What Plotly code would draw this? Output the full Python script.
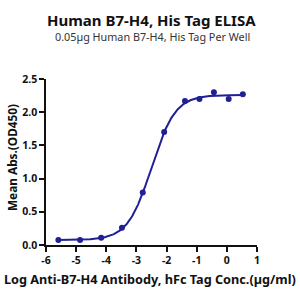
import numpy as np
import plotly.graph_objects as go

# Data
log_conc = [-5.59, -4.87, -4.17, -3.48, -2.79, -2.08, -1.39, -0.91, -0.43, 0.06, 0.53]
od450 = [0.075, 0.075, 0.11, 0.26, 0.79, 1.70, 2.17, 2.20, 2.30, 2.20, 2.27]

# 4PL fit parameters (estimated)
fit_bottom = 0.075
fit_top = 2.26
fit_logec50 = -2.5
fit_hill = 1.1

x_ticks = [-6, -5, -4, -3, -2, -1, 0, 1]
y_ticks = [0.0, 0.5, 1.0, 1.5, 2.0, 2.5]

title = "Human B7-H4, His Tag ELISA"
subtitle = "0.05µg Human B7-H4, His Tag Per Well"
x_title = "Log Anti-B7-H4 Antibody, hFc Tag Conc.(µg/ml)"
y_title = "Mean Abs.(OD450)"

color = "#1f1f96"
font = "Noto Sans"

xs = np.linspace(min(log_conc), max(log_conc), 300)
ys = fit_bottom + (fit_top - fit_bottom) / (1 + 10 ** ((fit_logec50 - xs) * fit_hill))

fig = go.Figure()
fig.add_trace(go.Scatter(x=xs, y=ys, mode="lines", line=dict(color=color, width=2),
                         hoverinfo="skip", showlegend=False))
fig.add_trace(go.Scatter(x=log_conc, y=od450, mode="markers",
                         marker=dict(color=color, size=6), showlegend=False))

W, H = 300, 300
ml, mr, mt, mb = 46, 43, 79, 55
ph = H - mt - mb
pw = W - ml - mr

def py(pix):
    return 1 + (mt - pix) / ph

def px(pix):
    return (pix - ml) / pw

fig.update_layout(
    width=W, height=H,
    margin=dict(l=ml, r=mr, t=mt, b=mb),
    paper_bgcolor="white", plot_bgcolor="white",
    font=dict(family=font, color="#111111"),
    xaxis=dict(range=[-6, 1], tickvals=x_ticks, ticktext=[str(v) for v in x_ticks],
               showgrid=False, zeroline=False, showline=True, linecolor="#111111", linewidth=1.5,
               ticks="outside", ticklen=5, tickwidth=1.5, tickcolor="#111111",
               ticklabelstandoff=0,
               tickfont=dict(size=10.5, family=font, weight="bold", color="#111111")),
    yaxis=dict(range=[0, 2.5], tickvals=y_ticks, ticktext=[f"{v:.1f}" for v in y_ticks],
               showgrid=False, zeroline=False, showline=True, linecolor="#111111", linewidth=1.5,
               ticks="outside", ticklen=5, tickwidth=1.5, tickcolor="#111111",
               ticklabelstandoff=0,
               tickfont=dict(size=10.5, family=font, weight="bold", color="#111111")),
    annotations=[
        dict(text=title, x=px(151), y=py(20), xref="paper", yref="paper", showarrow=False,
             font=dict(size=15, family=font, weight="bold", color="#111111"),
             xanchor="center", yanchor="middle"),
        dict(text=subtitle, x=px(152), y=py(37), xref="paper", yref="paper", showarrow=False,
             font=dict(size=10.8, family=font, color="#333333"),
             xanchor="center", yanchor="middle"),
        dict(text=x_title, x=px(150), y=py(279), xref="paper", yref="paper", showarrow=False,
             font=dict(size=12.7, family=font, weight="bold", color="#111111"),
             xanchor="center", yanchor="middle"),
        dict(text=y_title, x=px(12), y=py(158), xref="paper", yref="paper", showarrow=False,
             textangle=-90,
             font=dict(size=11.8, family=font, weight="bold", color="#111111"),
             xanchor="center", yanchor="middle"),
    ],
)

fig.write_html("out.html")
